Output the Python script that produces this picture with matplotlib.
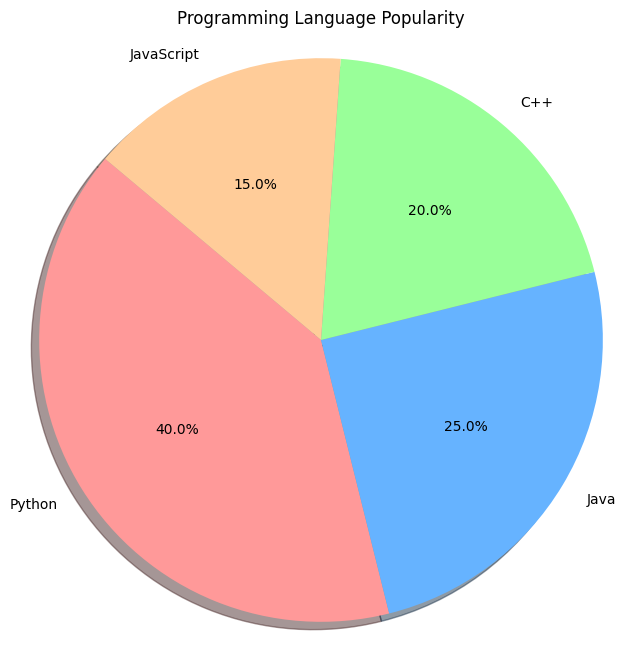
import matplotlib.pyplot as plt

# Данные
languages = ['Python', 'Java', 'C++', 'JavaScript']
popularity = [40, 25, 20, 15]
colors = ['#ff9999', '#66b3ff', '#99ff99', '#ffcc99']

fig = plt.figure(figsize=(8, 8), dpi=100)
plt.pie(popularity, labels=languages, colors=colors, autopct='%1.1f%%',
        shadow=True, startangle=140)
plt.axis('equal')
plt.title('Programming Language Popularity')
plt.savefig('out.png', bbox_inches='tight')
